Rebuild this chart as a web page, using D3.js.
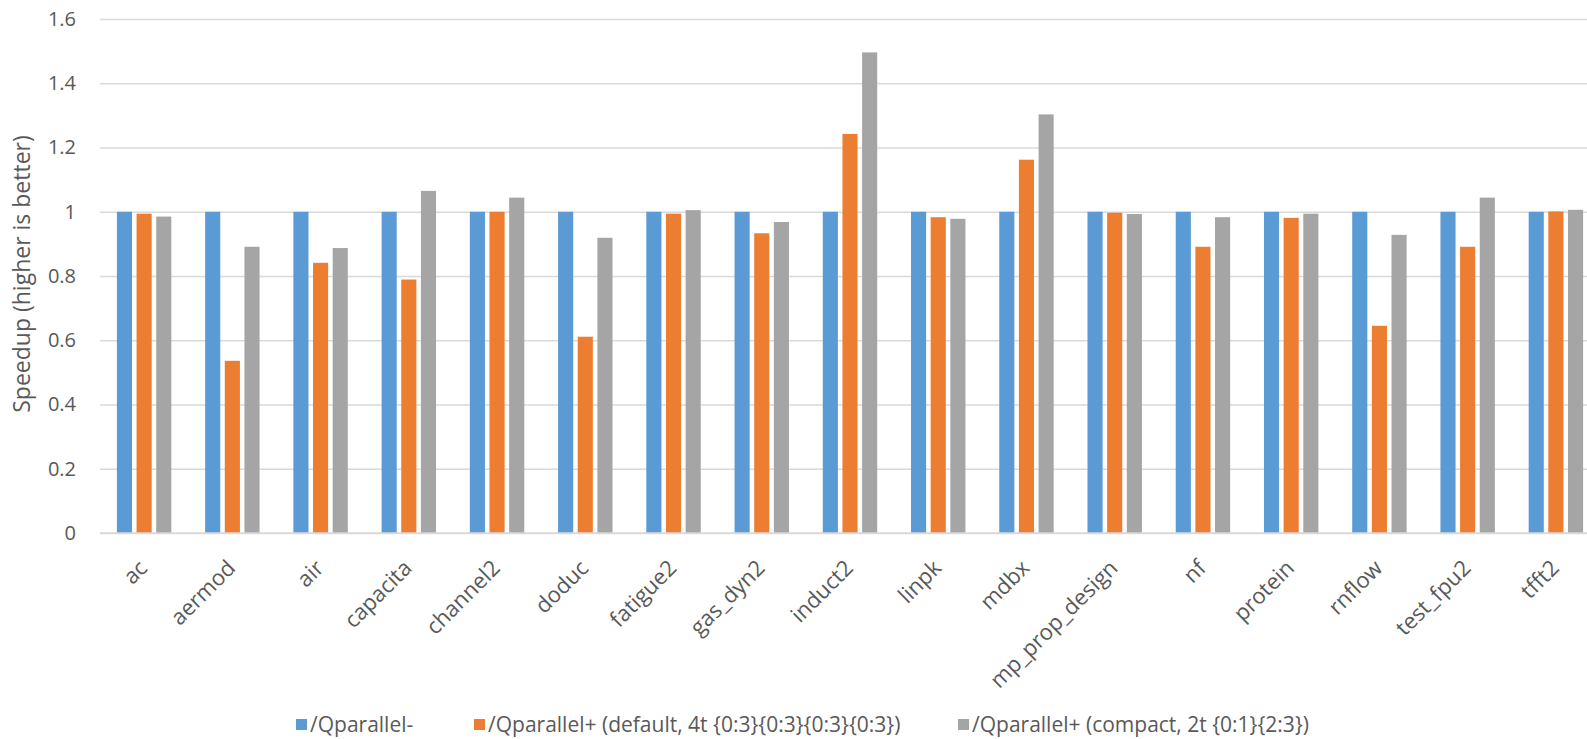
<!DOCTYPE html>
<html>
<head>
<meta charset="utf-8">
<script src="https://cdnjs.cloudflare.com/ajax/libs/d3/7.8.5/d3.min.js"></script>
<style>
  html, body { margin: 0; padding: 0; background: #fff; overflow: hidden; }
  svg { display: block; font-family: "Open Sans", "Noto Sans", sans-serif; }
</style>
</head>
<body>
<svg id="chart" width="1587" height="739"></svg>
<script>
// Benchmarks on the x axis
const categories = ["ac", "aermod", "air", "capacita", "channel2", "doduc", "fatigue2",
  "gas_dyn2", "induct2", "linpk", "mdbx", "mp_prop_design", "nf", "protein",
  "rnflow", "test_fpu2", "tfft2"];

// Series names (legend order)
const seriesNames = [
  "/Qparallel-",
  "/Qparallel+ (default, 4t {0:3}{0:3}{0:3}{0:3})",
  "/Qparallel+ (compact, 2t {0:1}{2:3})"
];

// Speedup relative to /Qparallel-
const qparallelOff = [1, 1, 1, 1, 1, 1, 1, 1, 1, 1, 1, 1, 1, 1, 1, 1, 1];
const qparallelDefault = [0.994, 0.536, 0.841, 0.789, 1.0, 0.611, 0.994, 0.933, 1.242,
  0.983, 1.162, 0.997, 0.891, 0.981, 0.645, 0.891, 1.001];
const qparallelCompact = [0.985, 0.891, 0.887, 1.065, 1.044, 0.919, 1.005, 0.968, 1.496,
  0.978, 1.303, 0.993, 0.983, 0.994, 0.928, 1.044, 1.006];

const yTicks = [0, 0.2, 0.4, 0.6, 0.8, 1, 1.2, 1.4, 1.6];
const colors = ["#5B9BD5", "#ED7D31", "#A5A5A5"];

const seriesValues = [qparallelOff, qparallelDefault, qparallelCompact];
const rows = categories.map((c, i) => ({
  name: c,
  values: seriesValues.map((s, k) => ({ key: k, v: s[i] }))
}));

const svg = d3.select("#chart");
const plot = { left: 100, right: 1600, top: 19, bottom: 533 };
const textColor = "#595959";

const x0 = d3.scaleBand().domain(categories).range([plot.left, plot.right]).padding(0);
const x1 = d3.scaleBand().domain([0, 1, 2]).range([0, x0.bandwidth()])
  .paddingInner(0.2308).paddingOuter(0.86);
const y = d3.scaleLinear().domain([0, 1.6]).range([plot.bottom, plot.top]);

// Horizontal gridlines and y tick labels
const yAxis = d3.axisLeft(y).tickValues(yTicks).tickSize(0).tickPadding(0)
  .tickFormat(d => d3.format("~g")(d));
const gy = svg.append("g").attr("transform", `translate(${plot.left},0)`).call(yAxis);
gy.select(".domain").remove();
gy.selectAll(".tick text")
  .attr("x", -24).attr("fill", textColor)
  .style("font-size", "20px").style("font-family", "'Open Sans', sans-serif");
gy.selectAll(".tick line")
  .attr("x2", plot.right - plot.left)
  .attr("stroke", "#D9D9D9").attr("stroke-width", 1.4);

// Bars
const groups = svg.append("g").selectAll("g").data(rows).join("g")
  .attr("transform", d => `translate(${x0(d.name)},0)`);
groups.selectAll("rect").data(d => d.values).join("rect")
  .attr("x", d => x1(d.key))
  .attr("width", x1.bandwidth())
  .attr("y", d => y(d.v))
  .attr("height", d => y(0) - y(d.v))
  .attr("fill", d => colors[d.key]);

// Baseline redrawn over bar bottoms
svg.append("line")
  .attr("x1", plot.left).attr("x2", plot.right)
  .attr("y1", y(0)).attr("y2", y(0))
  .attr("stroke", "#D9D9D9").attr("stroke-width", 1.4);

// Rotated category labels
const xAxis = d3.axisBottom(x0).tickSize(0).tickPadding(0);
const gx = svg.append("g").attr("transform", `translate(0,${plot.bottom})`).call(xAxis);
gx.select(".domain").remove();
gx.selectAll(".tick text")
  .attr("text-anchor", "end")
  .attr("fill", textColor)
  .style("font-size", "22px").style("font-family", "'Open Sans', sans-serif")
  .attr("x", 0).attr("y", 0).attr("dy", "0.35em")
  .attr("transform", "translate(-1,31) rotate(-45)");

// Y axis title
svg.append("text")
  .attr("transform", `translate(30,274) rotate(-90)`)
  .attr("text-anchor", "middle")
  .attr("fill", textColor)
  .style("font-size", "23px")
  .text("Speedup (higher is better)");

// Legend
const legendX = [296, 474, 958];
const legend = svg.append("g").selectAll("g").data(seriesNames).join("g")
  .attr("transform", (d, i) => `translate(${legendX[i]},725)`);
legend.append("rect")
  .attr("x", 0).attr("y", -6).attr("width", 11).attr("height", 11)
  .attr("fill", (d, i) => colors[i]);
legend.append("text")
  .attr("x", 14).attr("y", 0).attr("dy", "0.35em")
  .attr("fill", textColor)
  .style("font-size", "21px")
  .text(d => d);
</script>
</body>
</html>
